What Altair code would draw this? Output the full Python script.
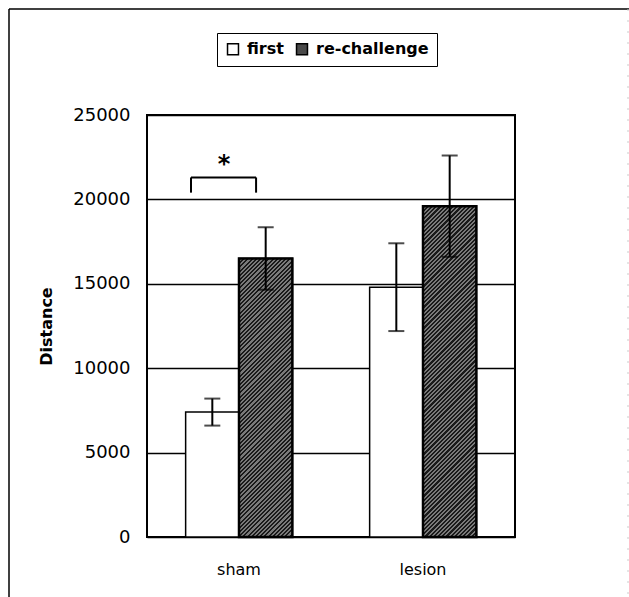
import altair as alt
import pandas as pd

# ---- data ----
groups = ["sham", "sham", "lesion", "lesion"]
series = ["first", "re-challenge", "first", "re-challenge"]
means = [7400, 16500, 14800, 19600]
sems = [800, 1850, 2600, 3000]

group_order = ["sham", "lesion"]
series_order = ["first", "re-challenge"]
y_ticks = [0, 5000, 10000, 15000, 20000, 25000]

# significance annotation (sham: first vs re-challenge)
brk_group = ["sham"]
brk_top = [21300]
brk_leg = [20400]
star_y = [22450]
star_text = ["*"]

# ---- layout / style ----
W, H = 368, 422
YMAX = 25000
PAD_INNER, PAD_OUTER = 0.42, 0.21
step = W / (len(group_order) - PAD_INNER + 2 * PAD_OUTER)
BAR_W = step * (1 - PAD_INNER) / 2
FONT = "DejaVu Sans"

df = pd.DataFrame({"group": groups, "series": series, "mean": means, "sem": sems})
brk = pd.DataFrame({"group": brk_group, "top": brk_top, "leg": brk_leg,
                    "star": star_y, "txt": star_text})


def hatch(value):
    """diagonal stripe gradient for a bar of the given value"""
    w = BAR_W
    h = value / YMAX * H
    k = h / w
    denom = w * (1 + k * k)
    P = 4.2
    frac = 0.5
    dark, light = "#1a1a1a", "#7a7a7a"
    stops = []
    n = 0
    while n * P / denom < 1:
        a = n * P / denom
        b = min((n + frac) * P / denom, 1)
        c = min((n + 1) * P / denom, 1)
        stops += [{"offset": a, "color": dark}, {"offset": b, "color": dark},
                  {"offset": b, "color": light}, {"offset": c, "color": light}]
        n += 1
    return {"gradient": "linear", "x1": 0, "y1": 0, "x2": 1, "y2": k, "stops": stops}


xenc = alt.X("group:N", sort=group_order,
             scale=alt.Scale(paddingInner=PAD_INNER, paddingOuter=PAD_OUTER),
             axis=alt.Axis(title=None, labelAngle=0, ticks=False, domain=False, grid=False,
                           labelFontSize=16, labelFont=FONT, labelColor="black",
                           labelPadding=24))
xoff = alt.XOffset("series:N", sort=series_order,
                   scale=alt.Scale(paddingInner=0, paddingOuter=0))
yscale = alt.Scale(domain=[0, YMAX], nice=False)

base = alt.Chart(df)

bars = base.mark_bar(stroke="black", strokeWidth=1.5).encode(
    x=xenc,
    xOffset=xoff,
    y=alt.Y("mean:Q", scale=yscale,
            axis=alt.Axis(values=y_ticks, format="d", grid=True, gridColor="black",
                          gridWidth=1.5, ticks=False, domain=False, labelFontSize=18,
                          labelFont=FONT, labelColor="black", labelPadding=17,
                          title="Distance", titleFont=FONT, titleFontSize=16,
                          titleFontWeight="bold", titleColor="black", titleAngle=270,
                          titleX=-101, titleY=H / 2, titleAlign="center",
                          titleBaseline="middle")),
    fill=alt.Fill("series:N", sort=series_order,
                  scale=alt.Scale(domain=series_order, range=["white", "#4a4a4a"]),
                  legend=alt.Legend(title=None, orient="none", legendX=70, legendY=-82,
                                    direction="horizontal", strokeColor="black", padding=8,
                                    symbolType="square", symbolSize=120,
                                    symbolStrokeColor="black", symbolStrokeWidth=1.5,
                                    labelFontSize=16, labelFont=FONT, labelFontWeight="bold",
                                    labelColor="black", columnPadding=9, labelOffset=6,
                                    labelLimit=400)),
)

hatch_bars = base.transform_filter("datum.series == 're-challenge'").mark_bar(
    stroke="black", strokeWidth=2.5
).encode(
    x=xenc,
    xOffset=xoff,
    y=alt.Y("mean:Q", scale=yscale),
    fill=alt.condition("datum.group == 'sham'",
                       alt.value(hatch(means[1])), alt.value(hatch(means[3]))),
)

err = base.transform_calculate(
    lo="datum.mean - datum.sem", hi="datum.mean + datum.sem"
)
err_rule = err.mark_rule(color="black", strokeWidth=2).encode(
    x=xenc, xOffset=xoff,
    y=alt.Y("lo:Q", scale=yscale), y2="hi:Q",
)
cap_lo = err.mark_tick(color="black", size=16, thickness=2).encode(
    x=xenc, xOffset=xoff, y=alt.Y("lo:Q", scale=yscale))
cap_hi = err.mark_tick(color="black", size=16, thickness=2).encode(
    x=xenc, xOffset=xoff, y=alt.Y("hi:Q", scale=yscale))

bb = alt.Chart(brk)
brk_h = bb.mark_rule(color="black", strokeWidth=2).encode(
    x=alt.X("group:N", sort=group_order, bandPosition=0.05),
    x2=alt.X2("group", bandPosition=0.66),
    y=alt.Y("top:Q", scale=yscale),
)
brk_l = bb.mark_rule(color="black", strokeWidth=2).encode(
    x=alt.X("group:N", sort=group_order, bandPosition=0.05),
    y=alt.Y("leg:Q", scale=yscale), y2="top:Q",
)
brk_r = bb.mark_rule(color="black", strokeWidth=2).encode(
    x=alt.X("group:N", sort=group_order, bandPosition=0.66),
    y=alt.Y("leg:Q", scale=yscale), y2="top:Q",
)
star = bb.mark_text(font=FONT, fontSize=24, fontWeight="bold", color="black",
                    baseline="middle", dy=7).encode(
    x=alt.X("group:N", sort=group_order, bandPosition=0.36),
    y=alt.Y("star:Q", scale=yscale),
    text="txt:N",
)

# outer page frame (decoration)
frame_data = alt.Data(values=[{}])
frame_top = alt.Chart(frame_data).mark_rule(color="black", strokeWidth=1.5).encode(
    x=alt.value(-138), x2=alt.value(482), y=alt.value(-106))
frame_left = alt.Chart(frame_data).mark_rule(color="black", strokeWidth=1.5).encode(
    x=alt.value(-138), y=alt.value(-106), y2=alt.value(482))
frame_right = alt.Chart(frame_data).mark_rule(color="#cccccc", strokeWidth=1,
                                              strokeDash=[2, 9]).encode(
    x=alt.value(481), y=alt.value(-106), y2=alt.value(482))

chart = alt.layer(
    bars, hatch_bars, err_rule, cap_lo, cap_hi, brk_h, brk_l, brk_r, star,
    frame_top, frame_left, frame_right
).properties(
    width=W, height=H,
    autosize=alt.AutoSizeParams(type="none"),
    padding={"left": 147, "top": 115, "right": 114, "bottom": 60},
    background="white",
).configure_view(stroke="black", strokeWidth=2)

chart.save("out.html", embed_options={"renderer": "svg", "actions": False})
